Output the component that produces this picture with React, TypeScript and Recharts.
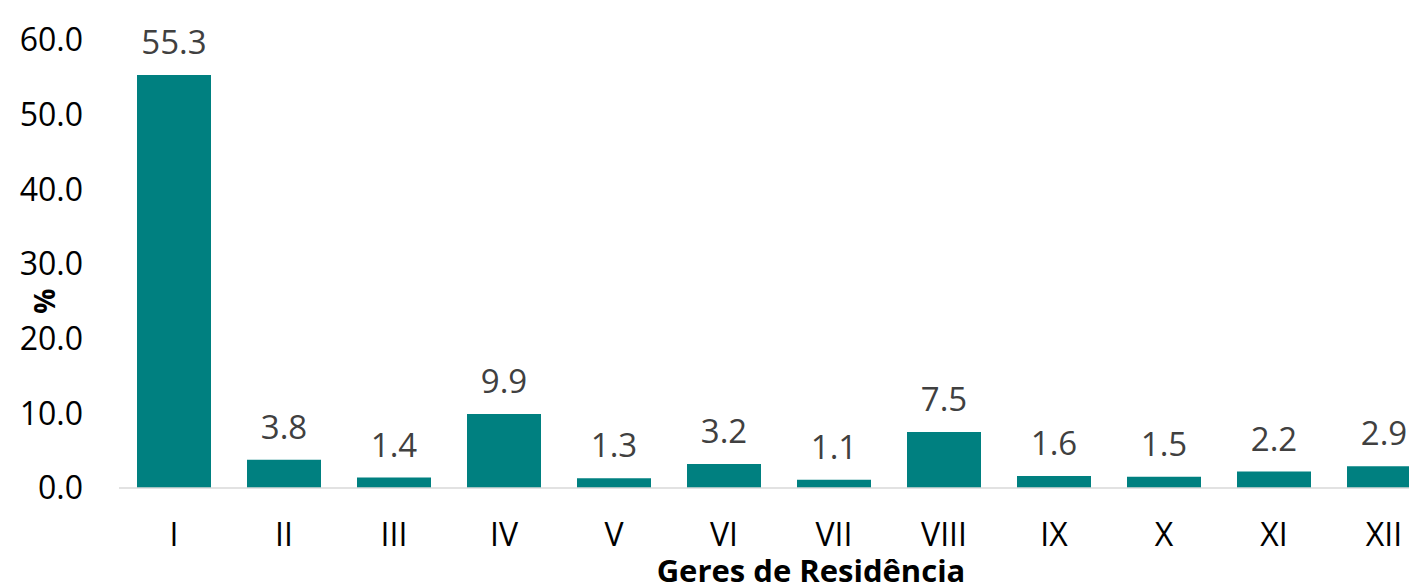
import React from 'react';
import { BarChart, Bar, XAxis, YAxis, LabelList, Label } from 'recharts';

const categories = ['I', 'II', 'III', 'IV', 'V', 'VI', 'VII', 'VIII', 'IX', 'X', 'XI', 'XII'];
const values = [55.3, 3.8, 1.4, 9.9, 1.3, 3.2, 1.1, 7.5, 1.6, 1.5, 2.2, 2.9];
const yTicks = [0, 10, 20, 30, 40, 50, 60];
const xTitle = 'Geres de Residência';
const yTitle = '%';

const data = categories.map((c, i) => ({ name: c, value: values[i] }));

const FONT = '"Open Sans", sans-serif';

const YTitle = (props: any) => {
  const vb = props.viewBox || { x: 0, y: 0, width: 0, height: 0 };
  const cx = vb.x + 36;
  const cy = vb.y + vb.height / 2 + 37;
  return (
    <text
      x={cx}
      y={cy}
      transform={`rotate(-90 ${cx} ${cy})`}
      textAnchor="middle"
      dominantBaseline="central"
      style={{ fontFamily: FONT, fontSize: 28, fontWeight: 700, fill: '#000' }}
    >
      {yTitle}
    </text>
  );
};

export default function App() {
  return (
    <div
      style={{
        position: 'fixed',
        left: 8,
        top: 8,
        width: 1401,
        height: 579,
        overflow: 'hidden',
        background: '#fff',
      }}
    >
      <BarChart
        width={1440}
        height={579}
        data={data}
        margin={{ top: 32, right: 9, left: 0, bottom: 0 }}
        barSize={74}
      >
        <XAxis
          dataKey="name"
          height={99}
          interval={0}
          axisLine={{ stroke: '#d9d9d9', strokeWidth: 1.5 }}
          tickLine={false}
          tickMargin={29}
          tick={{ fontFamily: FONT, fontSize: 32, fill: '#000' }}
        >
          <Label
            value={xTitle}
            position="insideBottom"
            offset={5}
            dx={32}
            style={{ fontFamily: FONT, fontSize: 31, fontWeight: 700, fill: '#000' }}
          />
        </XAxis>
        <YAxis
          width={111}
          domain={[0, 60]}
          ticks={yTicks}
          interval={0}
          axisLine={false}
          tickLine={false}
          tickMargin={30}
          tickFormatter={(v: number) => v.toFixed(1)}
          tick={{ fontFamily: FONT, fontSize: 32, fill: '#000' }}
        >
          <Label content={<YTitle />} />
        </YAxis>
        <Bar dataKey="value" fill="#008080" isAnimationActive={false}>
          <LabelList
            dataKey="value"
            position="top"
            offset={21}
            formatter={(v: any) => Number(v).toFixed(1)}
            style={{ fontFamily: FONT, fontSize: 33, fill: '#404040' }}
          />
        </Bar>
      </BarChart>
    </div>
  );
}
